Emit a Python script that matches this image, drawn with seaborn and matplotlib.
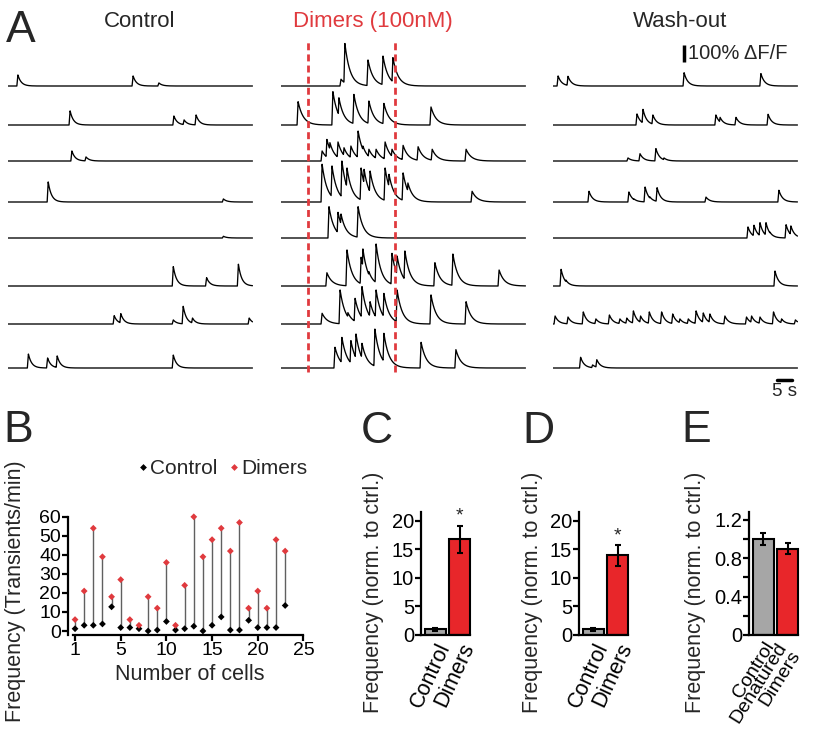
import numpy as np
import pandas as pd
import matplotlib
matplotlib.use("Agg")
import matplotlib.pyplot as plt
import matplotlib.transforms as mtrans
import seaborn as sns

# ---- data ----
# panel A: calcium transients, spike times (s) and peak amplitudes (% dF/F) per cell
ctrl_t = [[3.3, 41.7, 50.3], [20.7, 55.3, 58.7, 62.7], [21.3, 26.0], [13.4, 71.8], [71.8],
          [55.1, 66.2, 76.8], [35.4, 37.6, 55.1, 58.4, 61.5, 80.4], [6.8, 13.2, 16.4, 55.1]]
ctrl_a = [[65, 59, 18], [83, 53, 30, 59], [59, 24], [118, 18], [10],
          [114, 49, 128], [49, 61, 24, 104, 35, 35], [82, 59, 71, 76]]

dim_t = [[20.0, 21.3, 29.0, 34.0, 37.3],
         [5.7, 17.3, 19.3, 24.3, 29.3, 34.3, 50.0],
         [13.7, 15.3, 16.3, 19.0, 21.0, 23.3, 25.7, 27.3, 29.3, 31.7, 34.7, 37.0, 40.7, 45.7, 50.4, 61.7],
         [13.7, 17.0, 20.3, 22.0, 26.7, 27.7, 29.7, 34.7, 36.0, 40.7, 42.3, 63.7],
         [16.0, 19.0, 20.0, 25.7],
         [15.3, 22.0, 26.7, 27.3, 29.3, 31.7, 37.0, 38.7, 41.3, 51.3, 57.3, 72.7],
         [13.7, 19.7, 22.3, 24.7, 27.0, 29.7, 31.7, 34.3, 38.7, 50.0, 61.7],
         [18.0, 20.3, 23.3, 25.0, 27.0, 31.3, 34.3, 46.7, 58.3]]
dim_a = [[40, 250, 153, 176, 167],
         [137, 196, 160, 180, 141, 127, 106],
         [59, 127, 108, 112, 78, 88, 176, 88, 69, 69, 112, 69, 92, 84, 69, 69],
         [222, 212, 241, 200, 200, 192, 182, 200, 163, 171, 112, 63],
         [184, 151, 141, 184],
         [78, 212, 169, 218, 84, 247, 192, 176, 206, 137, 188, 94],
         [63, 200, 67, 151, 220, 131, 200, 180, 200, 171, 131],
         [122, 180, 161, 200, 145, 229, 204, 151, 108]]

wash_t = [[1.7, 5.0, 43.7, 69.3],
          [28.0, 30.0, 33.3, 54.3, 55.7, 61.0, 71.7],
          [25.0, 29.0, 34.3, 37.0],
          [12.0, 25.3, 27.0, 30.7, 32.3, 34.7, 51.0, 75.3],
          [65.0, 67.0, 69.0, 71.0, 72.3, 77.7, 79.3],
          [2.7, 4.3, 74.0],
          [0.7, 5.0, 10.1, 14.3, 18.8, 22.3, 24.6, 26.8, 29.2, 32.1, 36.2, 39.9, 42.3, 45.1,
           47.7, 50.1, 52.3, 57.3, 64.5, 66.2, 69.0, 73.5, 76.2, 80.8],
          [9.2, 13.2, 14.6]]
wash_a = [[59, 57, 78, 73],
          [65, 92, 59, 59, 45, 45, 63],
          [18, 43, 73, 18],
          [63, 59, 18, 88, 30, 84, 29, 69],
          [65, 75, 90, 90, 35, 78, 71],
          [98, 35, 88],
          [47, 41, 71, 30, 53, 30, 35, 77, 47, 71, 71, 59, 30, 30, 77, 65, 59, 47, 41, 47, 41, 71, 30, 24],
          [63, 18, 49]]

# panel B: frequency per cell (transients/min)
cell_idx = list(range(24))
ctrl_freq = [1.2, 3, 3, 3.7, 12.7, 1.8, 1.8, 1.2, 0, 0.5, 5, 0.5, 1.2, 2.5, 0, 3, 7.4, 0.5, 0.5, 5.6, 1.8, 1.8, 1.8, 13.4]
dim_freq = [6, 21, 54, 39, 18, 27, 6, 3, 18, 12, 36, 3, 24, 60, 39, 48, 54, 42, 57, 12, 21, 12, 48, 42]

# panels C-E: normalised frequency, mean and SEM
c_labels = ["Control", "Dimers"]
c_mean = [1.0, 16.7]
c_sem = [0.25, 2.4]
d_labels = ["Control", "Dimers"]
d_mean = [1.0, 13.9]
d_sem = [0.25, 1.8]
e_labels = ["Control", "Denatured\nDimers"]
e_mean = [1.0, 0.90]
e_sem = [0.065, 0.055]

# ---- style ----
sns.set_style("ticks")
plt.rcParams['font.family'] = ['Liberation Sans', 'DejaVu Sans']
plt.rcParams['axes.linewidth'] = 1.6
plt.rcParams['xtick.major.width'] = 1.6
plt.rcParams['ytick.major.width'] = 1.6
plt.rcParams['ytick.minor.width'] = 1.6
plt.rcParams['xtick.major.size'] = 4
plt.rcParams['ytick.major.size'] = 4
plt.rcParams['ytick.minor.size'] = 4
plt.rcParams['xtick.color'] = 'black'
plt.rcParams['ytick.color'] = 'black'
plt.rcParams['axes.edgecolor'] = 'black'

RED = '#e8262a'
DASH_RED = '#e03a3e'
W, H = 813, 750
fig = plt.figure(figsize=(W / 100, H / 100), dpi=100)


def px_axes(l, t, r, b):
    return fig.add_axes([l / W, 1 - b / H, (r - l) / W, (b - t) / H])


def ftext(x, y, s, **kw):
    return fig.text(x / W, 1 - y / H, s, **kw)


# ---- panel A ----
k = 100 / 17.0          # % dF/F per pixel
row_base = [86, 125, 161, 202, 238, 286, 324, 368]
col_x0 = [8, 281, 553]
t_axis = np.linspace(0, 81.5, 1631)


def make_trace(times, amps, tau):
    y = np.zeros_like(t_axis)
    for ti, a in zip(times, amps):
        dt = t_axis - ti
        ev = np.where(dt >= 0, a * np.exp(-np.clip(dt, 0, None) / tau), 0.0)
        ev = np.where((dt < 0) & (dt > -0.35), a * (1 + dt / 0.35), ev)
        y = np.maximum(y, ev)
    return y


columns = [(ctrl_t, ctrl_a, 1.1), (dim_t, dim_a, 1.7), (wash_t, wash_a, 1.2)]
axA = []
for x0, (tt, aa, tau) in zip(col_x0, columns):
    ax = px_axes(x0, 30, x0 + 245, 400)
    ax.set_xlim(0, 245 / 3)
    ax.set_ylim(-400 * k, -30 * k)
    for r, (ti, ai) in enumerate(zip(tt, aa)):
        ax.plot(t_axis, make_trace(ti, ai, tau) - row_base[r] * k, color='black', lw=0.95)
    ax.axis('off')
    axA.append(ax)

# drug application window
for tx in [9.0, 38.0]:
    axA[1].vlines(tx, -372 * k, -40 * k, colors=DASH_RED, lw=2, linestyles=(0, (2.5, 1.5)))

# scale bars
axw = axA[2]
axw.plot([43.7, 43.7], [-62 * k, -62 * k + 100], color='black', lw=2.5, solid_capstyle='butt')
axw.text(45.0, -53.5 * k, "100% ΔF/F", fontsize=14.5, va='center', ha='left')
axw.plot([74.7, 79.7], [-380 * k, -380 * k], color='black', lw=2.5, clip_on=False)
axw.text(77.2, -383 * k, "5 s", fontsize=13.5, va='top', ha='center', clip_on=False)

ftext(140, 27, "Control", fontsize=16, ha='center', va='baseline')
ftext(373, 27, "Dimers (100nM)", fontsize=16, ha='center', va='baseline', color=DASH_RED)
ftext(680, 27, "Wash-out", fontsize=16, ha='center', va='baseline')

# ---- panel B ----
axB = px_axes(68, 513, 308, 635)
for x, c, d in zip(cell_idx, ctrl_freq, dim_freq):
    axB.vlines(x, c, d, colors='#606060', lw=1.0, zorder=1)
dfB = pd.DataFrame({
    "cell": cell_idx + cell_idx,
    "freq": ctrl_freq + dim_freq,
    "cond": ["Control"] * len(cell_idx) + ["Dimers"] * len(cell_idx),
})
sns.scatterplot(data=dfB, x="cell", y="freq", hue="cond", palette={"Control": "black", "Dimers": DASH_RED},
                marker="D", s=12, edgecolor='none', ax=axB, zorder=3)
axB.set_xlim(-0.77, 25.5)
axB.set_ylim(-2.1, 62)
axB.set_xticks([0, 5, 10, 15, 20, 25])
axB.set_xticklabels(["1", "5", "10", "15", "20", "25"])
axB.set_yticks([0, 10, 20, 30, 40, 50, 60])
axB.tick_params(labelsize=14, pad=1)
axB.spines['left'].set_bounds(-2.1, 60)
axB.spines['bottom'].set_bounds(-0.2, 25)
sns.despine(ax=axB)
axB.set_xlabel("")
axB.set_ylabel("")
leg = axB.legend(loc='center', bbox_to_anchor=(222 / W, 1 - 469 / H), bbox_transform=fig.transFigure,
                 ncol=2, frameon=False, fontsize=15, handletextpad=0.05, columnspacing=0.5,
                 handlelength=0.6, markerscale=1.0, borderpad=0)
ftext(190, 675, "Number of cells", fontsize=15.5, ha='center', va='center')
ftext(16, 591, "Frequency (Transients/min)", fontsize=15.5, ha='center', va='center', rotation=90)


# ---- panels C-E ----
def bar_panel(left, labels, mean, sem, ymax, ticks, ticklabels, minor=None, star=None,
              xfont=15.5, rot=65):
    ax = px_axes(left, 512, left + 51, 635)
    df = pd.DataFrame({"cond": labels, "val": mean})
    sns.barplot(data=df, x="cond", y="val", hue="cond", palette=['#a6a6a6', RED], legend=False,
                width=0.85, edgecolor='black', linewidth=1.5, saturation=1, ax=ax)
    ax.errorbar([0, 1], mean, yerr=sem, fmt='none', ecolor='black', elinewidth=1.5, capsize=2.5,
                capthick=1.5, zorder=5)
    ax.set_xlim(-0.59, 1.5)
    ax.set_ylim(0, ymax)
    ax.set_yticks(ticks)
    ax.set_yticklabels(ticklabels)
    if minor is not None:
        ax.set_yticks(minor, minor=True)
    ax.tick_params(axis='y', labelsize=14.5, pad=1)
    ax.tick_params(axis='x', length=0, pad=3)
    ax.set_xticks([0, 1])
    ax.set_xticklabels(labels, rotation=rot, ha='right', rotation_mode='anchor', fontsize=xfont,
                       linespacing=0.9)
    ax.spines['bottom'].set_bounds(-0.59, 1.43)
    sns.despine(ax=ax)
    ax.set_xlabel("")
    ax.set_ylabel("")
    if star is not None:
        ax.text(1, star, "*", ha='center', va='bottom', fontsize=14)
    return ax


bar_panel(421, c_labels, c_mean, c_sem, 21.5, [0, 5, 10, 15, 20], ["0", "5", "10", "15", "20"], star=19.4)
bar_panel(579, d_labels, d_mean, d_sem, 21.5, [0, 5, 10, 15, 20], ["0", "5", "10", "15", "20"], star=15.9)
axE = bar_panel(749, e_labels, e_mean, e_sem, 1.28, [0, 0.4, 0.8, 1.2], ["0", "0.4", "0.8", "1.2"],
                minor=[0.2, 0.6, 1.0], xfont=14, rot=58)
# pull the two-line label a little to the left so it stays inside the figure
lab = axE.get_xticklabels()[1]
lab.set_transform(lab.get_transform() + mtrans.ScaledTranslation(-12 / 100, 0, fig.dpi_scale_trans))
for x in [373, 532, 695]:
    ftext(x, 592, "Frequency (norm. to ctrl.)", fontsize=15.5, ha='center', va='center', rotation=90)

# ---- panel letters ----
for s, x, y in [("A", 6, 42), ("B", 3, 442), ("C", 361, 443), ("D", 522, 443), ("E", 681, 442)]:
    ftext(x, y, s, fontsize=32, ha='left', va='baseline')

fig.savefig("out.png", dpi=100)
